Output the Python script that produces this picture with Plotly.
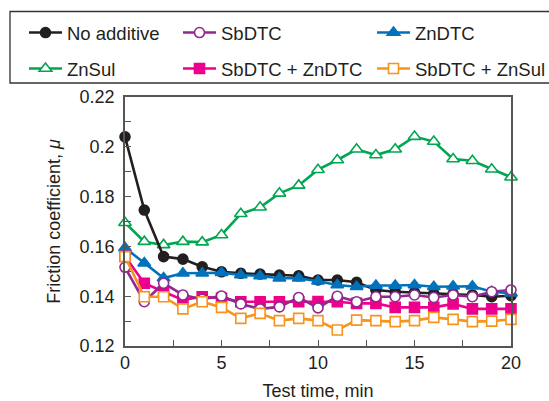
import plotly.graph_objects as go

time_min = list(range(0, 21))

no_additive = [0.204, 0.1746, 0.1559, 0.1549, 0.1518, 0.1498, 0.1492, 0.1489, 0.1485, 0.1482, 0.1465,
               0.1465, 0.1456, 0.1425, 0.1418, 0.1415, 0.141, 0.141, 0.1405, 0.1398, 0.1402]
sbdtc = [0.1516, 0.1378, 0.1452, 0.1405, 0.1388, 0.1401, 0.1369, 0.1349, 0.1357, 0.1395, 0.1353,
         0.14, 0.1378, 0.1398, 0.1398, 0.1405, 0.1395, 0.1405, 0.1398, 0.1418, 0.1425]
zndtc = [0.1594, 0.1533, 0.1473, 0.1492, 0.1492, 0.1494, 0.1485, 0.1481, 0.1472, 0.1472, 0.146,
         0.1445, 0.1438, 0.1443, 0.1443, 0.1445, 0.1438, 0.144, 0.144, 0.1418, 0.1412]
znsul = [0.1695, 0.1619, 0.1606, 0.1619, 0.1617, 0.1646, 0.1731, 0.1757, 0.1813, 0.1845, 0.1908,
         0.1947, 0.199, 0.1967, 0.199, 0.2041, 0.2021, 0.1951, 0.1944, 0.191, 0.1878]
sbdtc_zndtc = [0.156, 0.1452, 0.1418, 0.1385, 0.1398, 0.1392, 0.1378, 0.1378, 0.1378, 0.1378, 0.1379,
               0.1378, 0.1371, 0.1371, 0.1355, 0.1355, 0.1355, 0.1369, 0.1349, 0.1349, 0.1349]
sbdtc_znsul = [0.1559, 0.1398, 0.1398, 0.1349, 0.1378, 0.1355, 0.1311, 0.1331, 0.1302, 0.1311, 0.1302,
               0.1264, 0.1304, 0.1302, 0.1298, 0.1302, 0.1315, 0.1307, 0.1298, 0.13, 0.1307]

series = [
    ("No additive", no_additive, "#231f20", "circle", "#231f20", "legend"),
    ("SbDTC", sbdtc, "#92278f", "circle", "white", "legend2"),
    ("ZnDTC", zndtc, "#0072bc", "triangle-up", "#0072bc", "legend3"),
    ("ZnSul", znsul, "#00a651", "triangle-up", "white", "legend4"),
    ("SbDTC + ZnDTC", sbdtc_zndtc, "#ec008c", "square", "#ec008c", "legend5"),
    ("SbDTC + ZnSul", sbdtc_znsul, "#f7941d", "square", "white", "legend6"),
]

W, H = 549, 401
L, R, T, B = 125, 38, 97, 55
pw, ph = W - L - R, H - T - B

def px_to_paper(xp, yp):
    return (xp - L) / pw, (H - B - yp) / ph

fig = go.Figure()
draw_order = [3, 0, 2, 4, 1, 5]
for idx in draw_order:
    name, ys, col, sym, fill, leg = series[idx]
    fig.add_trace(go.Scatter(
        x=time_min, y=ys, name=name, mode="lines+markers",
        line=dict(color=col, width=2.6),
        marker=dict(symbol=sym, size=10 if sym != "triangle-up" else 11, color=fill,
                    line=dict(color=col, width=1.6)),
        legend=leg, cliponaxis=False,
    ))

# legend positions (left px, center y px)
leg_pos = {
    "legend": (24, 33), "legend2": (178, 33), "legend3": (372, 33),
    "legend4": (24, 69), "legend5": (178, 69), "legend6": (372, 69),
}
layout_legends = {}
for k, (xp, yp) in leg_pos.items():
    xx, yy = px_to_paper(xp, yp)
    layout_legends[k] = dict(x=xx, y=yy, xanchor="left", yanchor="middle",
                             bgcolor="rgba(0,0,0,0)", borderwidth=0,
                             font=dict(family="Liberation Sans, Arial", size=18.5, color="#231f20"),
                             itemwidth=33, tracegroupgap=0)

x0, y0 = px_to_paper(10, 83)
x1, y1 = px_to_paper(556, 11.5)
fig.add_shape(type="rect", xref="paper", yref="paper", x0=x0, y0=y0, x1=x1, y1=y1,
              line=dict(color="#333333", width=1.3), fillcolor="rgba(0,0,0,0)", layer="below")

axis_common = dict(showline=True, linecolor="#555555", linewidth=1.6, mirror=True,
                   ticks="inside", tickcolor="#555555", tickwidth=1.2, ticklen=6,
                   showgrid=False, zeroline=False,
                   tickfont=dict(family="Liberation Sans, Arial", size=18, color="#231f20"))

fig.update_layout(
    width=W, height=H, margin=dict(l=L, r=R, t=T, b=B, autoexpand=False),
    paper_bgcolor="white", plot_bgcolor="white",
    showlegend=True,
    xaxis=dict(range=[0, 20], dtick=5, tick0=0,
               minor=dict(dtick=2.5, ticks="inside", ticklen=6, tickcolor="#555555", tickwidth=1.2),
               title=dict(text="Test time, min", standoff=12,
                          font=dict(family="Liberation Sans, Arial", size=18, color="#231f20")),
               **axis_common),
    yaxis=dict(range=[0.12, 0.22], dtick=0.02, tick0=0.12, ticklabelstandoff=5,
               minor=dict(dtick=0.01, ticks="inside", ticklen=6, tickcolor="#555555", tickwidth=1.2),
               title=dict(text="Friction coefficient, <i>μ</i>", standoff=14,
                          font=dict(family="Liberation Sans, Arial", size=18, color="#231f20")),
               **axis_common),
    **layout_legends,
)

fig.write_html("out.html")
